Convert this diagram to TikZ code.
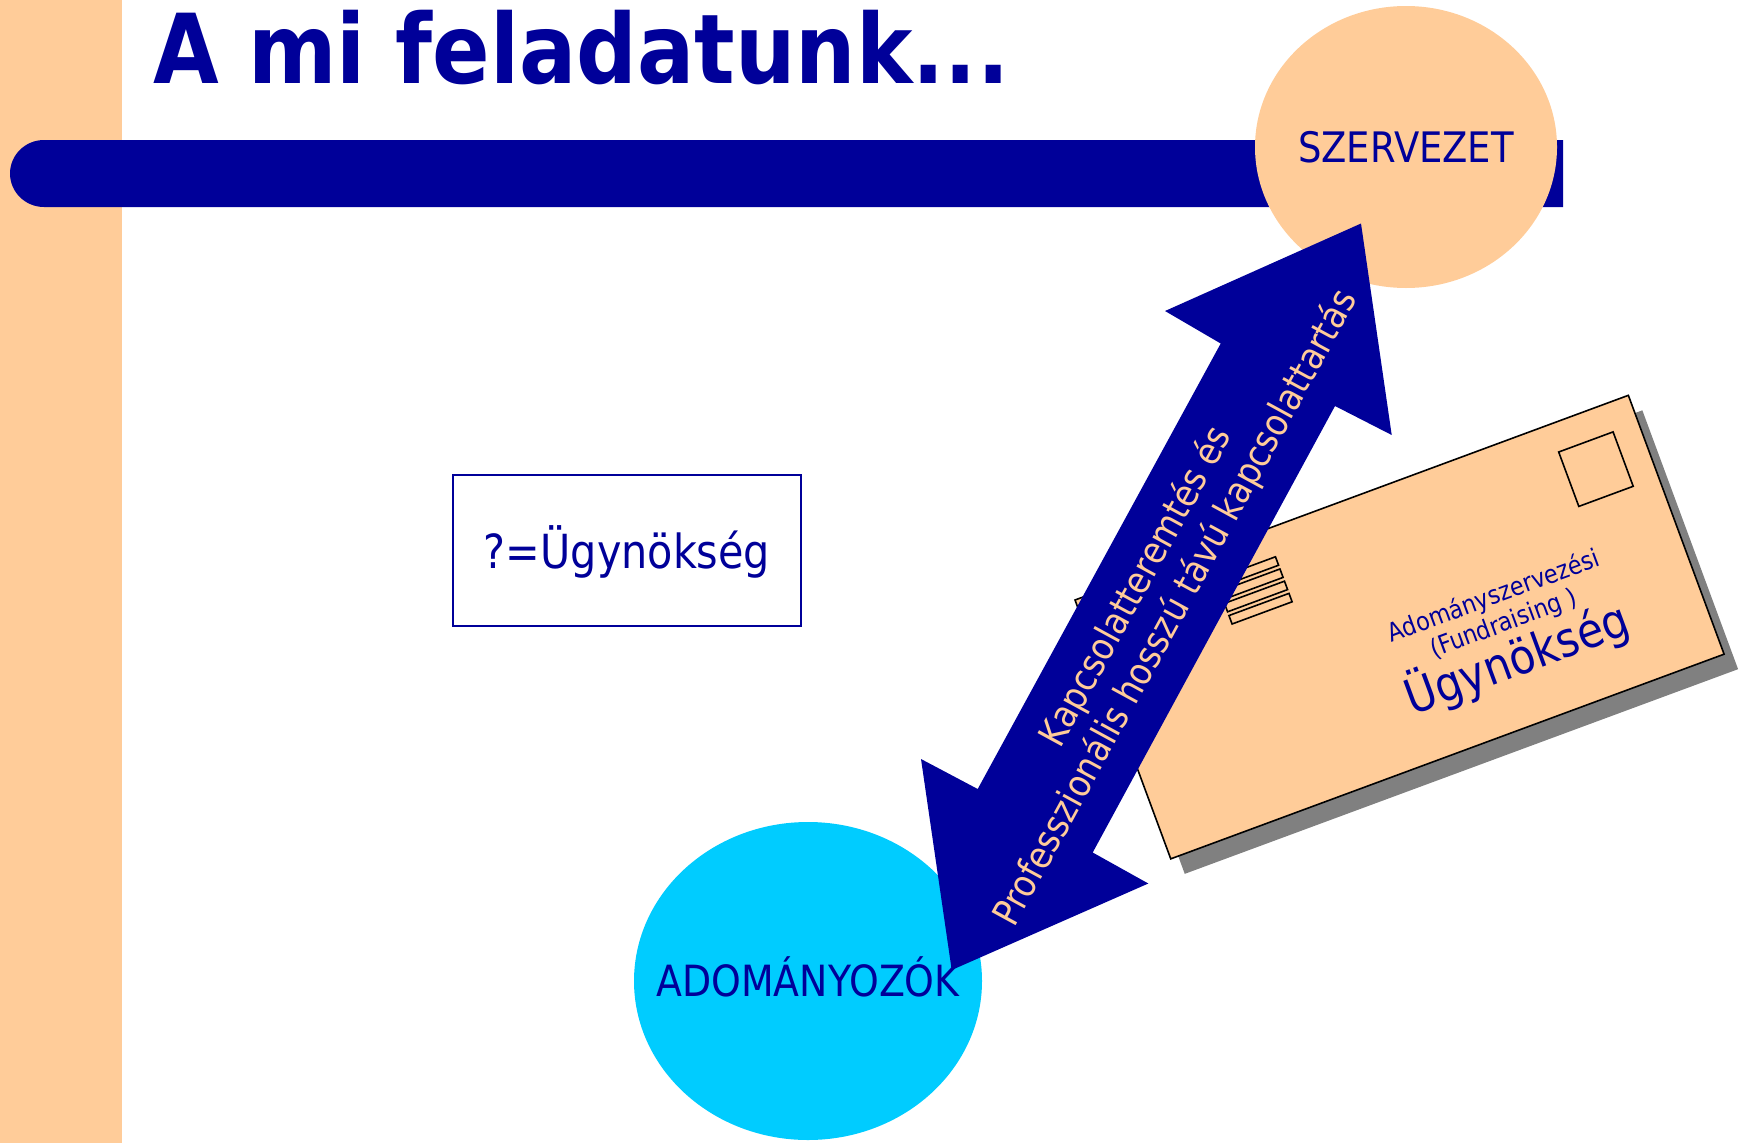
\documentclass[tikz,border=0pt]{standalone}
\usepackage{fontspec}
\setmainfont{DejaVu Sans}[FakeStretch=0.88]
\usepackage{tikz}
\usetikzlibrary{shapes.geometric}
\definecolor{peach}{HTML}{FFCC99}
\definecolor{navy}{HTML}{000099}
\definecolor{sky}{HTML}{00CCFF}
\definecolor{envgray}{HTML}{808080}

\begin{document}
\begin{tikzpicture}[x=1pt, y=-1pt,
  blob/.style={ellipse, inner sep=0pt},
  lbl/.style={text=navy, inner sep=0pt},
  slot/.style={draw=black, line width=1.6pt}]
\useasboundingbox (0,0) rectangle (1742,1143);
\fill[peach] (0,0) rectangle (122,1143);
\node[lbl, anchor=base west, font=\fontsize{96.5}{110}\selectfont\bfseries] (title) at (153,83) {A mi feladatunk...};
\fill[navy] (1563,140) -- (44,140) arc[start angle=90, end angle=270, x radius=34pt, y radius=33.5pt] -- (1563,207) -- cycle;
% szervezet
\node[blob, fill=peach, minimum width=302pt, minimum height=282pt] (org) at (1406,147) {};
\node[lbl, text height=31pt, text depth=0pt, font=\fontsize{42}{50}\selectfont] (orgtext) at (org.center) {SZERVEZET};
\node[draw=navy, line width=2pt, fill=white, minimum width=348pt, minimum height=151pt, text=navy, text height=35pt, text depth=0pt, font=\fontsize{47}{56}\selectfont] (agency) at (627,550.5) {?=Ügynökség};
% adomanyozok
\node[blob, fill=sky, minimum width=348pt, minimum height=318pt] (donors) at (808,981) {};
\node[lbl, text height=31.5pt, text depth=0pt, font=\fontsize{43}{50}\selectfont] (donorstext) at (donors.center) {ADOMÁNYOZÓK};
% boritek
\begin{scope}[shift={(1089,615)}, rotate=20.3]
\fill[envgray] (0,0) rectangle (590,276);
\end{scope}
\begin{scope}[shift={(1075,600)}, rotate=20.3]
\draw[fill=peach, line width=1.6pt] (0,0) rectangle (590,276);
\draw[slot] (505,29) rectangle (563,87);
\foreach \b in {29,42,55,68} \draw[slot] (139,\b) rectangle (203,\b+9);
\node[lbl, transform shape, anchor=base, font=\fontsize{25.5}{30}\selectfont] (env1) at (394,150) {Adományszervezési};
\node[lbl, transform shape, anchor=base, font=\fontsize{25.5}{30}\selectfont] (env2) at (394,179) {(Fundraising )};
\node[lbl, transform shape, anchor=base, font=\fontsize{48}{56}\selectfont] (env3) at (394,225) {Ügynökség};
\end{scope}
% nyil
\fill[navy] (1361,223.5) -- (1391.7,435) -- (1335,406) -- (1092.7,852.5) -- (1148.3,883.5) -- (951.7,970) -- (921,759) -- (977.7,789) -- (1220.7,343.5) -- (1165,311) -- cycle;
\node[rotate=61.4, align=center, text=peach, inner sep=0pt, font=\fontsize{37.6}{45}\selectfont] (link) at (1156.5,597.75) {Kapcsolatteremtés és\\Professzionális hosszú távú kapcsolattartás};
\end{tikzpicture}
\end{document}
